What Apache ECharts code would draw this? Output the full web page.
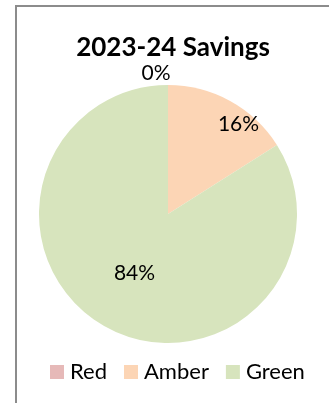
<!DOCTYPE html>
<html>
<head>
<meta charset="utf-8">
<script src="https://cdn.jsdelivr.net/npm/echarts@6/dist/echarts.min.js"></script>
<style>html,body{margin:0;padding:0;background:#fff;}#c{width:329px;height:403px;}</style>
</head>
<body>
<div id="c"></div>
<script>
const titleText = '2023-24 Savings';
const categories = ['Red', 'Amber', 'Green'];
const values = [0, 16, 84];
const colors = ['#E6B9B8', '#FCD5B5', '#D7E4BD'];

const labelOffsets = [[-12, -73], [38, -31], [-1, 0]];

const chart = echarts.init(document.getElementById('c'), null, {renderer: 'canvas'});
chart.setOption({
  animation: false,
  backgroundColor: '#fff',
  color: colors,
  graphic: [{
    type: 'rect', silent: true, z: 100,
    shape: {x: 16, y: 6, width: 400, height: 420},
    style: {fill: 'none', stroke: '#8c8c8c', lineWidth: 2}
  }],
  title: {
    text: titleText, left: 168, textAlign: 'center', top: 30,
    textStyle: {fontFamily: 'Lato', fontWeight: 'bold', fontSize: 26, color: '#000'}
  },
  legend: {
    data: categories, left: 45, top: 356, itemWidth: 14, itemHeight: 14, itemGap: 17,
    icon: 'rect',
    textStyle: {fontFamily: 'Lato', fontSize: 22, color: '#000', padding: [0, 0, 0, 1]}
  },
  series: [{
    type: 'pie', center: [168, 214], radius: 129, startAngle: 90, clockwise: true,
    data: categories.map((c, i) => ({name: c, value: values[i]})),
    label: {
      show: true, position: 'inside', formatter: p => Math.round(p.percent) + '%',
      fontFamily: 'Lato', fontSize: 21, color: '#000'
    },
    labelLine: {show: false},
    labelLayout: p => ({dx: labelOffsets[p.dataIndex][0], dy: labelOffsets[p.dataIndex][1]}),
    emphasis: {disabled: true},
    itemStyle: {borderWidth: 0}
  }]
});
</script>
</body>
</html>
